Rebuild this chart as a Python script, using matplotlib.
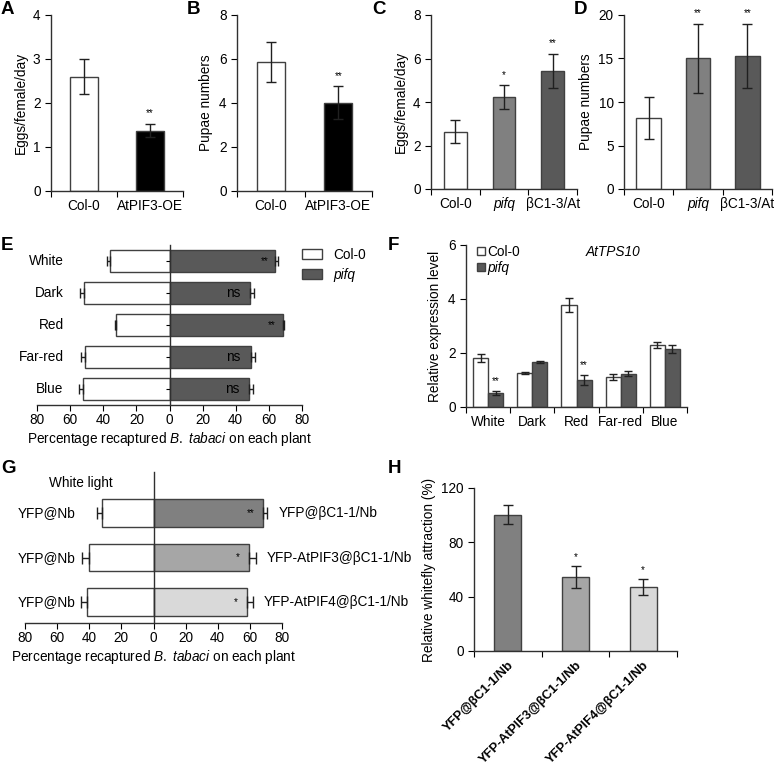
import numpy as np
import matplotlib
matplotlib.use('Agg')
import matplotlib.pyplot as plt
from matplotlib.patches import Patch
from matplotlib.ticker import FuncFormatter

FS = 9.8
plt.rcParams['font.family'] = ['Liberation Sans', 'DejaVu Sans']
plt.rcParams['font.size'] = FS
plt.rcParams['mathtext.fontset'] = 'custom'
plt.rcParams['mathtext.rm'] = 'Liberation Sans'
plt.rcParams['mathtext.it'] = 'Liberation Sans:italic'
plt.rcParams['axes.linewidth'] = 1.0
plt.rcParams['axes.edgecolor'] = '#303030'

# ---- data ----
A_groups = ['Col-0', 'AtPIF3-OE']
A_vals = [2.6, 1.37]
A_err = [0.39, 0.15]
A_sig = ['', '**']

B_vals = [5.87, 4.02]
B_err = [0.92, 0.74]
B_sig = ['', '**']

C_groups = ['Col-0', 'pifq', 'βC1-3/At']
C_vals = [2.64, 4.21, 5.42]
C_err = [0.52, 0.55, 0.79]
C_sig = ['', '*', '**']

D_vals = [8.2, 15.0, 15.3]
D_err = [2.4, 4.0, 3.7]
D_sig = ['', '**', '**']

light = ['White', 'Dark', 'Red', 'Far-red', 'Blue']
E_col = [36.2, 51.5, 32.2, 50.9, 52.3]
E_col_err = [1.6, 2.4, 1.0, 2.4, 2.2]
E_pifq = [63.9, 48.6, 68.3, 49.0, 48.2]
E_pifq_err = [1.4, 2.5, 0.8, 2.7, 2.5]
E_sig = ['**', 'ns', '**', 'ns', 'ns']

F_col = [1.81, 1.26, 3.79, 1.11, 2.29]
F_col_err = [0.15, 0.02, 0.26, 0.10, 0.11]
F_pifq = [0.52, 1.67, 1.01, 1.24, 2.15]
F_pifq_err = [0.09, 0.03, 0.19, 0.09, 0.14]
F_sig = ['**', '', '**', '', '']

G_ctrl = ['YFP@Nb', 'YFP@Nb', 'YFP@Nb']
G_test = ['YFP@βC1-1/Nb', 'YFP-AtPIF3@βC1-1/Nb', 'YFP-AtPIF4@βC1-1/Nb']
G_left = [31.8, 40.3, 41.6]
G_left_err = [3.5, 4.2, 3.5]
G_right = [68.2, 59.7, 58.4]
G_right_err = [2.5, 3.9, 3.3]
G_sig = ['**', '*', '*']

H_vals = [100.4, 54.3, 47.1]
H_err = [6.8, 8.0, 6.0]
H_sig = ['', '*', '*']

W, H = 774, 765
fig = plt.figure(figsize=(W / 100, H / 100), dpi=100)

EDGE = '#404040'
GRAY = '#808080'
DARK = '#595959'
LGRAY = '#a6a6a6'
VLGRAY = '#d9d9d9'
XLAB = 'Percentage recaptured $\\mathit{B.}$ $\\mathit{tabaci}$ on each plant'


def px_axes(left, top, right, bottom):
    return fig.add_axes([left / W, 1 - bottom / H, (right - left) / W, (bottom - top) / H])


def excel_xaxis(ax, labels):
    n = len(labels)
    ax.set_xlim(-0.5, n - 0.5)
    ax.set_xticks(np.arange(-0.5, n))
    ax.set_xticklabels([])
    ax.set_xticks(np.arange(n), minor=True)
    ax.set_xticklabels(labels, minor=True)
    ax.tick_params(axis='x', which='minor', length=0, pad=6)
    ax.tick_params(axis='x', which='major', length=4, direction='out')
    ax.tick_params(axis='y', length=4, direction='out')
    ax.spines['top'].set_visible(False)
    ax.spines['right'].set_visible(False)


def simple_bars(ax, labels, vals, errs, colors, sig, ylim, yticks, ylabel, width=0.41):
    x = np.arange(len(labels))
    ax.bar(x, vals, width=width, color=colors, edgecolor=EDGE, linewidth=1)
    ax.errorbar(x, vals, yerr=errs, fmt='none', ecolor='#202020', elinewidth=1, capsize=3.5, capthick=1)
    for i, s in enumerate(sig):
        if s:
            ax.annotate(s, (x[i], vals[i] + errs[i]), xytext=(0, 4), textcoords='offset points',
                        ha='center', va='bottom', fontsize=7)
    excel_xaxis(ax, labels)
    ax.set_ylim(*ylim)
    ax.set_yticks(yticks)
    ax.set_ylabel(ylabel, fontsize=FS)


# A
axA = px_axes(51, 15, 183, 191)
simple_bars(axA, A_groups, A_vals, A_err, ['white', 'black'], A_sig, (0, 4), [0, 1, 2, 3, 4], 'Eggs/female/day')
# B
axB = px_axes(237, 15, 372, 191)
simple_bars(axB, A_groups, B_vals, B_err, ['white', 'black'], B_sig, (0, 8), [0, 2, 4, 6, 8], 'Pupae numbers')
# C
axC = px_axes(431, 15, 577, 189)
simple_bars(axC, C_groups, C_vals, C_err, ['white', GRAY, DARK], C_sig, (0, 8), [0, 2, 4, 6, 8],
            'Eggs/female/day', width=0.46)
axC.get_xticklabels(minor=True)[1].set_style('italic')
# D
axD = px_axes(624, 15, 772, 189)
simple_bars(axD, C_groups, D_vals, D_err, ['white', GRAY, DARK], D_sig, (0, 20), [0, 5, 10, 15, 20],
            'Pupae numbers', width=0.5)
axD.get_xticklabels(minor=True)[1].set_style('italic')

# E
axE = px_axes(37, 245, 302, 405)
y = np.arange(len(light))
axE.barh(y, -np.array(E_col), height=0.66, color='white', edgecolor=EDGE, linewidth=1)
axE.barh(y, E_pifq, height=0.66, color=DARK, edgecolor=EDGE, linewidth=1)
axE.errorbar(-np.array(E_col), y, xerr=[E_col_err, np.zeros(len(y))], fmt='none',
             ecolor='#202020', elinewidth=1, capsize=3.5)
axE.errorbar(E_pifq, y, xerr=[np.zeros(len(y)), E_pifq_err], fmt='none',
             ecolor='#202020', elinewidth=1, capsize=3.5)
for i, s in enumerate(E_sig):
    if s == 'ns':
        axE.text(E_pifq[i] - 6, y[i], s, ha='right', va='center', fontsize=FS)
    else:
        axE.text(E_pifq[i] - 4, y[i], s, ha='right', va='center', fontsize=7)
    axE.text(-64, y[i], light[i], ha='right', va='center', fontsize=FS)
axE.set_xlim(-80, 80)
axE.set_ylim(4.5, -0.5)
axE.set_xticks(np.arange(-80, 81, 20))
axE.xaxis.set_major_formatter(FuncFormatter(lambda v, p: '%d' % abs(v)))
axE.set_yticks(y)
axE.set_yticklabels([])
axE.spines['left'].set_position(('data', 0))
axE.spines['top'].set_visible(False)
axE.spines['right'].set_visible(False)
axE.tick_params(axis='y', length=3, direction='out')
axE.tick_params(axis='x', length=4, direction='out', pad=2)
axE.set_xlabel(XLAB, fontsize=FS, labelpad=2)
legE = fig.legend(handles=[Patch(facecolor='white', edgecolor=EDGE), Patch(facecolor=DARK, edgecolor=EDGE)],
                  labels=['Col-0', 'pifq'], loc='upper left', bbox_to_anchor=(302 / W, 1 - 248 / H),
                  frameon=False, fontsize=FS, handlelength=1.5, handleheight=0.75, labelspacing=0.45,
                  handletextpad=0.8, borderpad=0, borderaxespad=0)
legE.get_texts()[1].set_style('italic')

# F
axF = px_axes(466, 245, 687, 407)
x = np.arange(len(light))
w = 0.34
axF.bar(x - w / 2, F_col, width=w, color='white', edgecolor=EDGE, linewidth=1, label='Col-0')
axF.bar(x + w / 2, F_pifq, width=w, color=DARK, edgecolor=EDGE, linewidth=1, label='pifq')
axF.errorbar(x - w / 2, F_col, yerr=F_col_err, fmt='none', ecolor='#202020', elinewidth=1, capsize=3)
axF.errorbar(x + w / 2, F_pifq, yerr=F_pifq_err, fmt='none', ecolor='#202020', elinewidth=1, capsize=3)
for i, s in enumerate(F_sig):
    if s:
        axF.annotate(s, (x[i] + w / 2, F_pifq[i] + F_pifq_err[i]), xytext=(0, 3), textcoords='offset points',
                     ha='center', va='bottom', fontsize=7)
excel_xaxis(axF, light)
axF.set_ylim(0, 6)
axF.set_yticks([0, 2, 4, 6])
axF.set_ylabel('Relative expression level', fontsize=FS)
legF = axF.legend(loc='upper left', bbox_to_anchor=(0.05, 1.0), frameon=False, fontsize=FS,
                  handlelength=0.55, handleheight=0.55, handletextpad=0.2, labelspacing=0.15,
                  borderpad=0, borderaxespad=0)
legF.get_texts()[1].set_style('italic')
axF.text(0.665, 0.955, 'AtTPS10', transform=axF.transAxes, ha='center', va='center',
         fontsize=FS, style='italic')

# G
axG = px_axes(25, 472, 282, 623)
yg = np.arange(len(G_test))
axG.barh(yg, -np.array(G_left), height=0.62, color='white', edgecolor=EDGE, linewidth=1)
axG.barh(yg, G_right, height=0.62, color=[GRAY, LGRAY, VLGRAY], edgecolor=EDGE, linewidth=1)
axG.errorbar(-np.array(G_left), yg, xerr=[G_left_err, np.zeros(len(yg))], fmt='none',
             ecolor='#202020', elinewidth=1, capsize=4)
axG.errorbar(G_right, yg, xerr=[np.zeros(len(yg)), G_right_err], fmt='none',
             ecolor='#202020', elinewidth=1, capsize=4)
for i in range(len(yg)):
    axG.text(G_right[i] - (5 if G_sig[i] == '**' else 6), yg[i], G_sig[i], ha='right', va='center', fontsize=7)
    axG.text(-84.7, yg[i], G_ctrl[i], ha='left', va='center', fontsize=FS)
    axG.text(G_right[i] + G_right_err[i] + 7, yg[i], G_test[i], ha='left', va='center', fontsize=FS)
axG.text(-65, -0.67, 'White light', ha='left', va='center', fontsize=FS)
axG.set_xlim(-80, 80)
axG.set_ylim(2.47, -0.92)
axG.set_xticks(np.arange(-80, 81, 20))
axG.xaxis.set_major_formatter(FuncFormatter(lambda v, p: '%d' % abs(v)))
axG.set_yticks([])
axG.spines['left'].set_position(('data', 0))
axG.spines['top'].set_visible(False)
axG.spines['right'].set_visible(False)
axG.tick_params(axis='x', length=4, direction='out', pad=2)
axG.set_xlabel(XLAB, fontsize=FS, labelpad=2)

# H
axH = px_axes(474, 488, 677, 651)
xh = np.arange(len(G_test))
axH.bar(xh, H_vals, width=0.4, color=[GRAY, LGRAY, VLGRAY], edgecolor=EDGE, linewidth=1)
axH.errorbar(xh, H_vals, yerr=H_err, fmt='none', ecolor='#202020', elinewidth=1, capsize=3.5)
for i, s in enumerate(H_sig):
    if s:
        axH.annotate(s, (xh[i], H_vals[i] + H_err[i]), xytext=(0, 3), textcoords='offset points',
                     ha='center', va='bottom', fontsize=7)
excel_xaxis(axH, G_test)
for t in axH.get_xticklabels(minor=True):
    t.set_rotation(45)
    t.set_ha('right')
    t.set_rotation_mode('anchor')
    t.set_fontweight('bold')
    t.set_fontsize(9.3)
axH.set_ylim(0, 120)
axH.set_yticks([0, 40, 80, 120])
axH.set_ylabel('Relative whitefly attraction (%)', fontsize=FS)

# panel letters
for lab, px, py in [('A', 1, 9), ('B', 187, 9), ('C', 372, 9), ('D', 574, 9),
                    ('E', 1, 245), ('F', 388, 245), ('G', 1, 468), ('H', 388, 468)]:
    fig.text(px / W, 1 - py / H, lab, fontsize=13.5, fontweight='bold', ha='left', va='center')

fig.savefig('out.png', dpi=100)
